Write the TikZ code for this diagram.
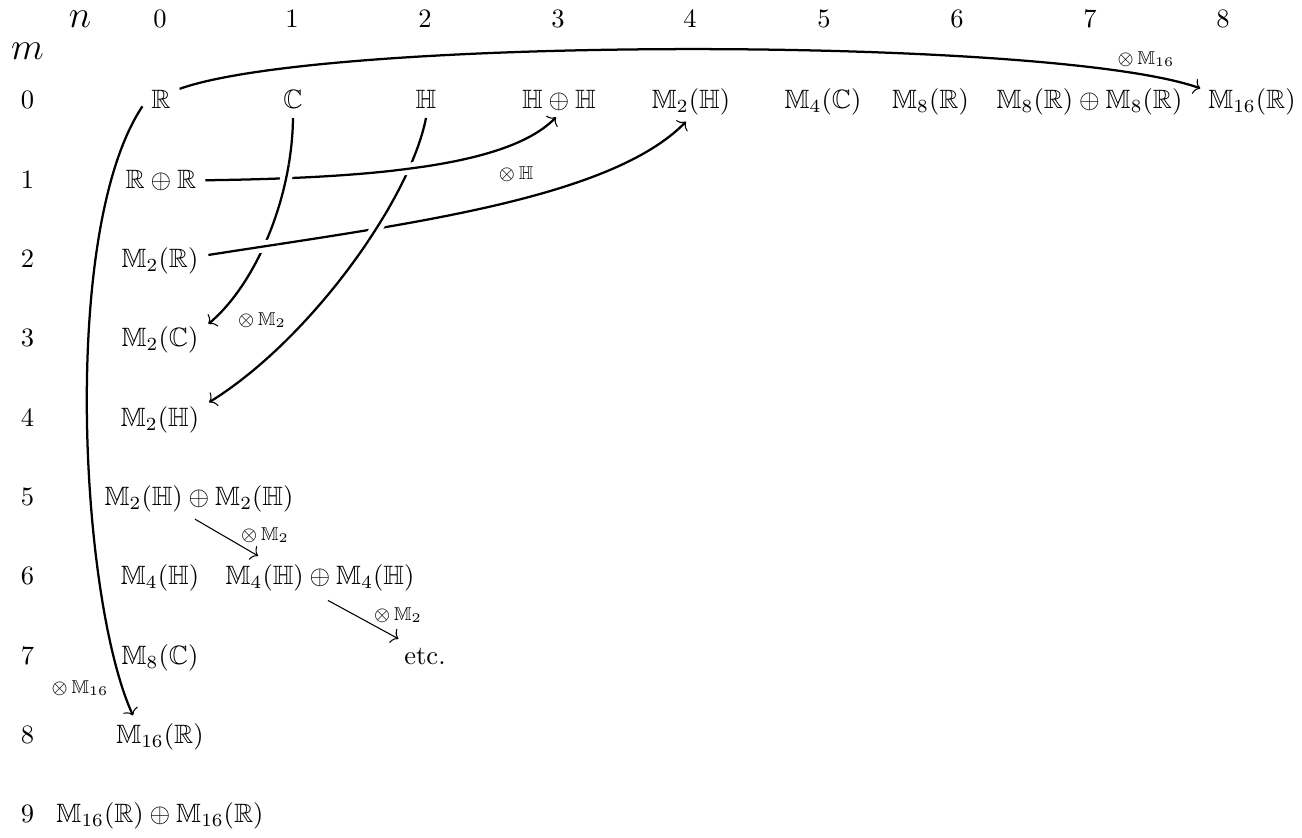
\documentclass[tikz,border=0pt]{standalone}
\usepackage{amssymb}
\usetikzlibrary{arrows.meta,calc,intersections}
\tikzset{
  ent/.style={anchor=base, inner sep=3.2pt},
  hdr/.style={anchor=base, inner sep=3.2pt, font=\fontsize{13.5}{16}\selectfont},
  tag/.style={font=\scriptsize, inner sep=1pt},
  cmtip/.tip={Computer Modern Rightarrow[length=2.4pt, width=6pt, line width=0.4pt]},
  bigarr/.style={line width=0.85pt, -cmtip},
  smallarr/.style={line width=0.4pt, -cmtip},
  overline/.style={line width=0.85pt},
  gapline/.style={white, line width=4.5pt},
}
\newcommand\pathAthree{(RpR.east) .. controls (380,178) and (510,165) .. ($(HpH.south)+(-3,-3)$)}
\newcommand\pathAfour{($(M2R.east)+(1,-6)$) .. controls (400,225) and (610,200) .. ($(M2Hz.south)+(-5,-3)$)}
\newcommand\pathAfive{(C.south) .. controls (292,200) and (255,285) .. ($(M2C.north east)+(1,6)$)}
\newcommand\pathAsix{(H.south) .. controls (410,200) and (310,340) .. ($(M2Hf.north east)+(1,5)$)}
\begin{document}
\begin{tikzpicture}[x=0.377pt,y=-0.377pt]
\useasboundingbox (0,0) rectangle (1302,838);
% headers
\node[hdr] (nlab) at (80,28) {$n$};
\node[hdr] (mlab) at (27.5,60) {$m$};
\foreach \c/\x in {0/160,1/292,2/425,3/558,4/690,5/824,6/957,7/1090,8/1223}
  \node[ent] (col\c) at (\x,28) {$\c$};
\foreach \r in {0,...,9}
  \node[ent] (row\r) at (27.5,{109+79.3*\r}) {$\r$};
% row 0
\node[ent] (R) at (161,109) {$\mathbb{R}$};
\node[ent] (C) at (293,109) {$\mathbb{C}$};
\node[ent] (H) at (426,109) {$\mathbb{H}$};
\node[ent] (HpH) at (559,109) {$\mathbb{H}\oplus\mathbb{H}$};
\node[ent] (M2Hz) at (691,109) {$\mathbb{M}_2(\mathbb{H})$};
\node[ent] (M4C) at (823,109) {$\mathbb{M}_4(\mathbb{C})$};
\node[ent] (M8R) at (930.5,109) {$\mathbb{M}_8(\mathbb{R})$};
\node[ent] (M8pM8) at (1089.5,109) {$\mathbb{M}_8(\mathbb{R})\oplus\mathbb{M}_8(\mathbb{R})$};
\node[ent] (Mb) at (1252,109) {$\mathbb{M}_{16}(\mathbb{R})$};
% column 0
\node[ent] (RpR) at (161,188.3) {$\mathbb{R}\oplus\mathbb{R}$};
\node[ent] (M2R) at (160,267.6) {$\mathbb{M}_2(\mathbb{R})$};
\node[ent] (M2C) at (160,346.9) {$\mathbb{M}_2(\mathbb{C})$};
\node[ent] (M2Hf) at (160,426.2) {$\mathbb{M}_2(\mathbb{H})$};
\node[ent] (M2HpM2H) at (199,505.5) {$\mathbb{M}_2(\mathbb{H})\oplus\mathbb{M}_2(\mathbb{H})$};
\node[ent] (M4H) at (160,584.8) {$\mathbb{M}_4(\mathbb{H})$};
\node[ent] (M4HpM4H) at (320,584.8) {$\mathbb{M}_4(\mathbb{H})\oplus\mathbb{M}_4(\mathbb{H})$};
\node[ent] (M8C) at (160,664.1) {$\mathbb{M}_8(\mathbb{C})$};
\node[ent] (etc) at (425,664.1) {etc.};
\node[ent] (Ma) at (160,743.4) {$\mathbb{M}_{16}(\mathbb{R})$};
\node[ent] (MpM) at (160,822.7) {$\mathbb{M}_{16}(\mathbb{R})\oplus\mathbb{M}_{16}(\mathbb{R})$};
% big arrows
\draw[bigarr] ($(R.west)+(0,6.5)$) .. controls (60,230) and (80,600) .. ($(Ma.north)+(-27,1)$);
\node[tag] (t1) at (80,688) {${\otimes}\,\mathbb{M}_{16}$};
\draw[bigarr] ($(R.east)+(0,-11)$) .. controls (327,36) and (1054,36) .. ($(Mb.west)+(1,-14)$);
\node[tag] (t2) at (1146,59) {${\otimes}\,\mathbb{M}_{16}$};
\draw[bigarr, name path=A3] \pathAthree;
\node[tag] (t3) at (516,174) {${\otimes}\,\mathbb{H}$};
\draw[bigarr, name path=A4] \pathAfour;
\draw[bigarr, name path=A5] \pathAfive;
\node[tag] (t5) at (262,320) {${\otimes}\,\mathbb{M}_2$};
\draw[bigarr, name path=A6] \pathAsix;
% crossings
\path[name intersections={of=A3 and A5, by=X35}];
\path[name intersections={of=A3 and A6, by=X36}];
\path[name intersections={of=A4 and A5, by=X45}];
\path[name intersections={of=A4 and A6, by=X46}];
\begin{scope}
  \clip (X35) circle (14);
  \draw[gapline] \pathAfive; \draw[overline] \pathAfive;
\end{scope}
\begin{scope}
  \clip (X36) circle (14);
  \draw[gapline] \pathAthree; \draw[overline] \pathAthree;
\end{scope}
\begin{scope}
  \clip (X45) circle (14);
  \draw[gapline] \pathAfour; \draw[overline] \pathAfour;
\end{scope}
\begin{scope}
  \clip (X46) circle (14);
  \draw[gapline] \pathAsix; \draw[overline] \pathAsix;
\end{scope}
% small arrows
\draw[smallarr] ($(M2HpM2H.south)+(-4,-2)$) -- ($(M4HpM4H.north)+(-62,0)$);
\node[tag] (t7) at (265,535) {${\otimes}\,\mathbb{M}_2$};
\draw[smallarr] ($(M4HpM4H.south)+(8,0)$) -- ($(etc.north west)+(3,0)$);
\node[tag] (t8) at (398,615) {${\otimes}\,\mathbb{M}_2$};
\end{tikzpicture}
\end{document}
